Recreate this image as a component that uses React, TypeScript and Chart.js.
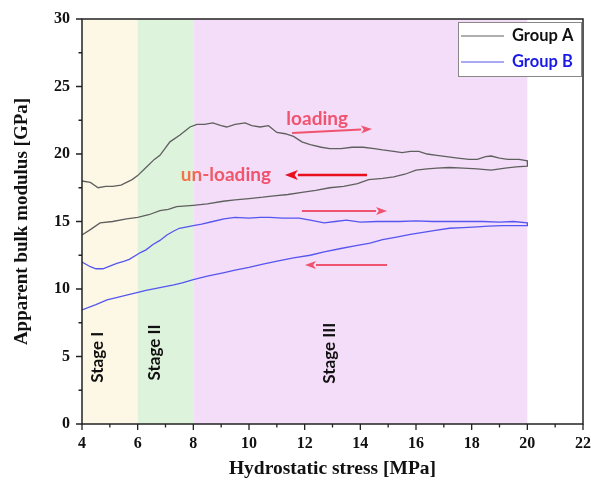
import React, { useEffect, useRef } from 'react';
import { Chart, registerables } from 'chart.js';

Chart.register(...registerables);

// ---- data ----
const groupALoadX = [4.0, 4.3, 4.58, 4.85, 5.1, 5.4, 5.6, 5.8, 6.0, 6.3, 6.6, 6.8, 7.16, 7.52, 7.88, 8.13, 8.4, 8.7, 9.0, 9.2, 9.5, 9.86, 10.1, 10.4, 10.7, 11.0, 11.3, 11.6, 11.9, 12.2, 12.6, 12.9, 13.3, 13.7, 14.1, 14.5, 14.8, 15.2, 15.5, 15.8, 16.1, 16.4, 16.75, 17.1, 17.5, 17.9, 18.2, 18.5, 18.7, 19.0, 19.3, 19.7, 20.0];
const groupALoadY = [18.0, 17.9, 17.5, 17.6, 17.6, 17.7, 17.9, 18.1, 18.4, 19.0, 19.6, 19.9, 20.9, 21.4, 22.0, 22.2, 22.2, 22.3, 22.1, 22.0, 22.2, 22.3, 22.1, 22.0, 22.1, 21.6, 21.5, 21.3, 20.9, 20.7, 20.5, 20.4, 20.4, 20.5, 20.5, 20.4, 20.3, 20.2, 20.1, 20.2, 20.2, 20.0, 19.9, 19.8, 19.7, 19.6, 19.6, 19.8, 19.85, 19.7, 19.6, 19.6, 19.5];
const groupAUnloadX = [20.0, 19.6, 19.2, 18.7, 18.2, 17.7, 17.2, 16.75, 16.4, 16.0, 15.6, 15.2, 14.8, 14.3, 13.9, 13.4, 12.9, 12.4, 11.9, 11.4, 10.9, 10.5, 10.0, 9.5, 9.07, 8.5, 8.0, 7.4, 7.1, 6.8, 6.4, 6.0, 5.6, 5.1, 4.65, 4.3, 4.0];
const groupAUnloadY = [19.1, 19.05, 18.95, 18.8, 18.9, 18.95, 19.0, 18.95, 18.9, 18.8, 18.5, 18.3, 18.2, 18.1, 17.8, 17.6, 17.5, 17.3, 17.15, 17.0, 16.9, 16.8, 16.7, 16.6, 16.5, 16.3, 16.2, 16.1, 15.9, 15.8, 15.5, 15.3, 15.2, 15.0, 14.9, 14.4, 14.0];

const groupBLoadX = [4.0, 4.3, 4.5, 4.75, 5.0, 5.25, 5.5, 5.7, 6.1, 6.3, 6.55, 6.8, 7.05, 7.3, 7.5, 8.0, 8.3, 8.7, 9.1, 9.5, 10.0, 10.4, 10.75, 11.2, 11.8, 12.2, 12.7, 13.1, 13.5, 14.0, 14.6, 15.4, 16.0, 16.6, 17.2, 17.8, 18.4, 19.0, 19.5, 20.0];
const groupBLoadY = [12.0, 11.65, 11.5, 11.5, 11.7, 11.9, 12.05, 12.2, 12.7, 12.9, 13.3, 13.6, 14.0, 14.3, 14.5, 14.7, 14.8, 15.0, 15.2, 15.3, 15.25, 15.3, 15.3, 15.25, 15.25, 15.1, 14.9, 15.0, 15.1, 14.95, 15.0, 15.0, 15.05, 15.0, 15.0, 15.0, 15.0, 14.95, 15.0, 14.9];
const groupBUnloadX = [20.0, 19.6, 19.1, 18.6, 18.2, 17.7, 17.2, 16.7, 16.25, 15.8, 15.3, 14.8, 14.35, 13.8, 13.3, 12.7, 12.2, 11.6, 11.1, 10.5, 10.0, 9.5, 9.07, 8.5, 8.0, 7.6, 7.3, 6.8, 6.3, 5.9, 5.6, 5.2, 4.9, 4.5, 4.0];
const groupBUnloadY = [14.7, 14.7, 14.7, 14.65, 14.6, 14.55, 14.5, 14.35, 14.2, 14.05, 13.85, 13.65, 13.4, 13.2, 13.0, 12.75, 12.5, 12.3, 12.1, 11.85, 11.6, 11.4, 11.2, 10.95, 10.7, 10.45, 10.3, 10.1, 9.9, 9.7, 9.55, 9.35, 9.2, 8.85, 8.45];

const seriesNames = ['Group A', 'Group B'];
const xTickValues = [4, 6, 8, 10, 12, 14, 16, 18, 20, 22];
const yTickValues = [0, 5, 10, 15, 20, 25, 30];
const stageBounds = [4, 6, 8, 20];
const stageNames = ['Stage I', 'Stage II', 'Stage III'];
const stageLabelX = [4.55, 6.62, 12.9];
const stageLabelCenterY = [4.95, 5.3, 5.25];

// annotations (data coordinates)
const loadingTextPos = [12.45, 22.6];
const unloadingTextPos = [9.17, 18.45];
const arrowA_load = [11.55, 21.56, 14.42, 21.85];
const arrowA_unload = [14.24, 18.44, 11.29, 18.44];
const arrowB_load = [11.9, 15.78, 14.96, 15.78];
const arrowB_unload = [14.96, 11.78, 12.01, 11.78];

const COLOR_A = '#5f5f5f';
const COLOR_B = '#5555f0';
const STAGE_COLORS = ['#fdf8e6', '#ddf3dc', '#f4ddf8'];
const PINK = '#f0536f';
const RED = '#e8101e';

function toPoints(xs: number[], ys: number[]) {
  return xs.map((x, i) => ({ x, y: ys[i] }));
}

function drawArrow(ctx: CanvasRenderingContext2D, x1: number, y1: number, x2: number, y2: number, color: string, width: number, headLen: number, headHalf: number) {
  const ang = Math.atan2(y2 - y1, x2 - x1);
  const bx = x2 - headLen * Math.cos(ang);
  const by = y2 - headLen * Math.sin(ang);
  ctx.save();
  ctx.strokeStyle = color;
  ctx.fillStyle = color;
  ctx.lineWidth = width;
  ctx.beginPath();
  ctx.moveTo(x1, y1);
  ctx.lineTo(bx, by);
  ctx.stroke();
  ctx.beginPath();
  ctx.moveTo(x2, y2);
  ctx.lineTo(bx + headHalf * Math.sin(ang), by - headHalf * Math.cos(ang));
  ctx.lineTo(bx + headLen * 0.25 * Math.cos(ang), by + headLen * 0.25 * Math.sin(ang));
  ctx.lineTo(bx - headHalf * Math.sin(ang), by + headHalf * Math.cos(ang));
  ctx.closePath();
  ctx.fill();
  ctx.restore();
}

const decorPlugin = {
  id: 'decor',
  beforeDatasetsDraw(chart: any) {
    const { ctx, chartArea, scales } = chart;
    const xs = scales.x;
    const ys = scales.y;
    ctx.save();
    for (let i = 0; i < stageNames.length; i++) {
      const a = xs.getPixelForValue(stageBounds[i]);
      const b = xs.getPixelForValue(stageBounds[i + 1]);
      ctx.fillStyle = STAGE_COLORS[i];
      ctx.fillRect(a, chartArea.top, b - a, chartArea.bottom - chartArea.top);
    }
    ctx.fillStyle = '#111';
    ctx.font = 'bold 17px Lato, "Open Sans", sans-serif';
    ctx.textAlign = 'center';
    ctx.textBaseline = 'middle';
    for (let i = 0; i < stageNames.length; i++) {
      const px = xs.getPixelForValue(stageLabelX[i]);
      const py = ys.getPixelForValue(stageLabelCenterY[i]);
      ctx.save();
      ctx.translate(px, py);
      ctx.rotate(-Math.PI / 2);
      ctx.fillText(stageNames[i], 0, 0);
      ctx.restore();
    }
    ctx.restore();
  },
  afterDatasetsDraw(chart: any) {
    const { ctx, chartArea, scales } = chart;
    const xs = scales.x;
    const ys = scales.y;
    const X = (v: number) => xs.getPixelForValue(v);
    const Y = (v: number) => ys.getPixelForValue(v);
    ctx.save();
    // frame
    ctx.strokeStyle = '#222';
    ctx.lineWidth = 1.5;
    ctx.strokeRect(chartArea.left, chartArea.top, chartArea.right - chartArea.left, chartArea.bottom - chartArea.top);
    // ticks
    ctx.lineWidth = 1.3;
    ctx.beginPath();
    for (let v = xTickValues[0]; v <= xTickValues[xTickValues.length - 1]; v += 1) {
      const major = xTickValues.includes(v);
      const px = X(v);
      ctx.moveTo(px, chartArea.bottom);
      ctx.lineTo(px, chartArea.bottom + (major ? 6 : 3.5));
    }
    for (let v = yTickValues[0]; v <= yTickValues[yTickValues.length - 1]; v += 2.5) {
      const major = yTickValues.includes(v);
      const py = Y(v);
      ctx.moveTo(chartArea.left, py);
      ctx.lineTo(chartArea.left - (major ? 6 : 3.5), py);
    }
    ctx.stroke();

    // arrows
    drawArrow(ctx, X(arrowA_load[0]), Y(arrowA_load[1]), X(arrowA_load[2]), Y(arrowA_load[3]), PINK, 2, 11, 4);
    drawArrow(ctx, X(arrowA_unload[0]), Y(arrowA_unload[1]), X(arrowA_unload[2]), Y(arrowA_unload[3]), RED, 2.6, 13, 5);
    drawArrow(ctx, X(arrowB_load[0]), Y(arrowB_load[1]), X(arrowB_load[2]), Y(arrowB_load[3]), PINK, 2, 11, 4);
    drawArrow(ctx, X(arrowB_unload[0]), Y(arrowB_unload[1]), X(arrowB_unload[2]), Y(arrowB_unload[3]), PINK, 2, 11, 4);

    // annotation texts
    ctx.font = 'bold 19px Lato, "Open Sans", sans-serif';
    ctx.textAlign = 'center';
    ctx.textBaseline = 'middle';
    ctx.fillStyle = PINK;
    ctx.fillText('loading', X(loadingTextPos[0]), Y(loadingTextPos[1]));
    const ux = X(unloadingTextPos[0]);
    const uy = Y(unloadingTextPos[1]);
    const w = ctx.measureText('un-loading').width;
    const grad = ctx.createLinearGradient(ux - w / 2, uy, ux + w / 2, uy);
    grad.addColorStop(0, '#f07a45');
    grad.addColorStop(0.3, '#f05a68');
    grad.addColorStop(1, '#f0506e');
    ctx.fillStyle = grad;
    ctx.fillText('un-loading', ux, uy);

    // legend
    const lx = chartArea.right - 125;
    const ly = chartArea.top + 3;
    const lw = 124;
    const lh = 55;
    ctx.fillStyle = '#ffffff';
    ctx.fillRect(lx, ly, lw, lh);
    ctx.strokeStyle = '#888';
    ctx.lineWidth = 1;
    ctx.strokeRect(lx + 0.5, ly + 0.5, lw - 1, lh - 1);
    const colors = [COLOR_A, COLOR_B];
    const textColors = ['#111', '#1a1ae8'];
    ctx.font = 'bold 16.5px Lato, "Open Sans", sans-serif';
    ctx.textAlign = 'left';
    ctx.textBaseline = 'middle';
    for (let i = 0; i < seriesNames.length; i++) {
      const yy = ly + 14 + i * 26;
      ctx.strokeStyle = colors[i];
      ctx.lineWidth = 1.2;
      ctx.beginPath();
      ctx.moveTo(lx + 3, yy);
      ctx.lineTo(lx + 46, yy);
      ctx.stroke();
      ctx.fillStyle = textColors[i];
      ctx.fillText(seriesNames[i], lx + 54, yy);
    }
    ctx.restore();
  },
};

export default function App() {
  const canvasRef = useRef<HTMLCanvasElement | null>(null);

  useEffect(() => {
    if (!canvasRef.current) return;
    const serif = '"Liberation Serif", "Times New Roman", serif';
    const chart = new Chart(canvasRef.current, {
      type: 'line',
      data: {
        datasets: [
          {
            label: seriesNames[0],
            data: [...toPoints(groupALoadX, groupALoadY), ...toPoints(groupAUnloadX, groupAUnloadY)],
            borderColor: COLOR_A,
            borderWidth: 1.3,
            pointRadius: 0,
            tension: 0,
            fill: false,
          },
          {
            label: seriesNames[1],
            data: [...toPoints(groupBLoadX, groupBLoadY), ...toPoints(groupBUnloadX, groupBUnloadY)],
            borderColor: COLOR_B,
            borderWidth: 1.3,
            pointRadius: 0,
            tension: 0,
            fill: false,
          },
        ],
      },
      options: {
        animation: false,
        responsive: false,
        layout: { padding: { top: 19, right: 8, left: 0, bottom: 0 } },
        plugins: {
          legend: { display: false },
          tooltip: { enabled: false },
        },
        scales: {
          x: {
            type: 'linear',
            min: 4,
            max: 22,
            afterBuildTicks: (s: any) => {
              s.ticks = xTickValues.map((v) => ({ value: v }));
            },
            ticks: {
              color: '#111',
              font: { family: serif, size: 16, weight: 'bold' },
              padding: 10,
              maxRotation: 0,
            },
            grid: { display: false, drawTicks: false },
            border: { display: false },
            title: {
              display: true,
              text: 'Hydrostatic stress [MPa]',
              color: '#111',
              font: { family: serif, size: 19.5, weight: 'bold' },
              padding: { top: 0, bottom: 9 },
            },
            afterFit: (s: any) => {
              s.height = 66;
              s.paddingLeft = 0;
              s.paddingRight = 0;
            },
          },
          y: {
            type: 'linear',
            min: 0,
            max: 30,
            afterBuildTicks: (s: any) => {
              s.ticks = yTickValues.map((v) => ({ value: v }));
            },
            ticks: {
              color: '#111',
              font: { family: serif, size: 16, weight: 'bold' },
              padding: 12,
            },
            grid: { display: false, drawTicks: false },
            border: { display: false },
            title: {
              display: true,
              text: 'Apparent bulk modulus [GPa]',
              color: '#111',
              font: { family: serif, size: 19, weight: 'bold' },
              padding: { top: 11, bottom: 0 },
            },
            afterFit: (s: any) => {
              s.width = 82;
              s.paddingTop = 0;
              s.paddingBottom = 0;
            },
          },
        },
      },
      plugins: [decorPlugin],
    } as any);
    return () => chart.destroy();
  }, []);

  return (
    <div style={{ position: 'fixed', left: 0, top: 0, width: 591, height: 490, background: '#ffffff' }}>
      <canvas ref={canvasRef} width={591} height={490} style={{ display: 'block' }} />
    </div>
  );
}
